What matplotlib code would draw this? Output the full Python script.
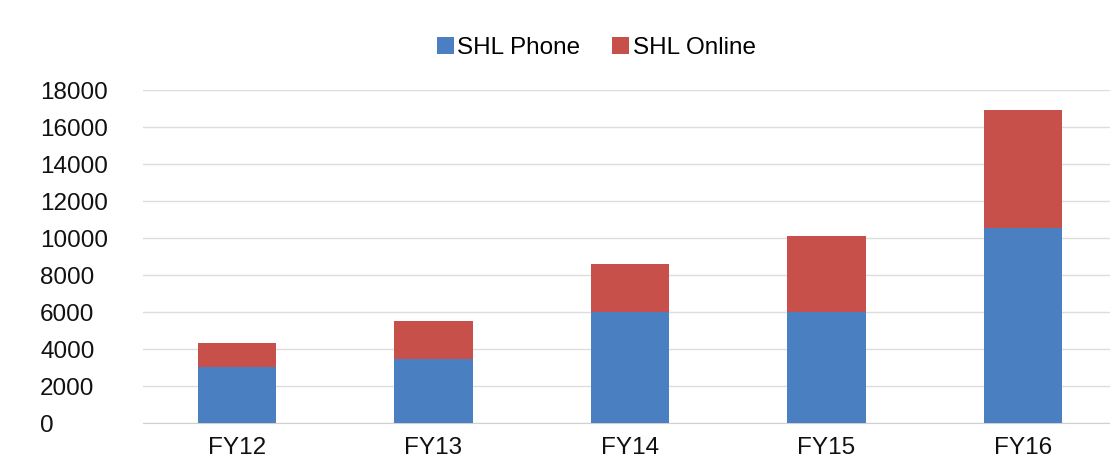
import matplotlib

matplotlib.use("Agg")
import matplotlib.pyplot as plt
import numpy as np

YEARS = ["FY12", "FY13", "FY14", "FY15", "FY16"]
PHONE = [3050, 3450, 6000, 6000, 10550]
ONLINE = [1250, 2050, 2600, 4100, 6350]

C_PHONE = "#4a7fc1"
C_ONLINE = "#c8504b"

plt.rcParams["font.family"] = ["Liberation Sans", "DejaVu Sans"]
FS = 17.5

fig = plt.figure(figsize=(11.1, 4.65), dpi=100)
ax = fig.add_axes([0.1288, 0.0903, 0.8712, 0.7161])

x = np.arange(len(YEARS))
ax.bar(x, PHONE, 0.4, color=C_PHONE, label="SHL Phone", zorder=3)
ax.bar(x, ONLINE, 0.4, bottom=PHONE, color=C_ONLINE, label="SHL Online", zorder=3)

ax.set_xlim(-0.478, 4.443)
ax.set_ylim(0, 18000)
ax.set_yticks(range(0, 18001, 2000))
ax.set_xticks(x)
ax.set_xticklabels(YEARS)

ax.grid(True, axis="y", color="#dddddd", lw=1.0, zorder=0)
for s in ("top", "right", "left"):
    ax.spines[s].set_visible(False)
ax.spines["bottom"].set_color("#d0d0d0")

ax.tick_params(axis="both", length=0, labelsize=FS, colors="#111111")
ax.tick_params(axis="x", pad=10)
ax.tick_params(axis="y", pad=74)
for lab in ax.get_yticklabels():
    lab.set_horizontalalignment("left")

fig.legend(
    loc="center",
    bbox_to_anchor=(0.537, 0.897),
    ncol=2,
    frameon=False,
    fontsize=FS,
    handlelength=0.7,
    handleheight=0.7,
    handletextpad=0.15,
    columnspacing=1.3,
)

fig.savefig("out.png", dpi=100)
